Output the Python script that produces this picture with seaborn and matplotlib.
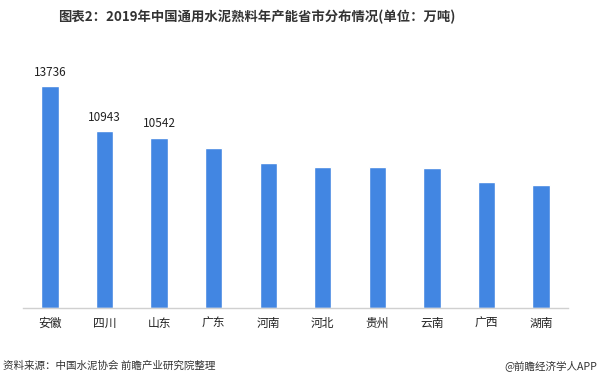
import matplotlib
matplotlib.use("Agg")
import matplotlib.pyplot as plt
import seaborn as sns
import pandas as pd

# Data (万吨)
provinces = ["安徽", "四川", "山东", "广东", "河南", "河北", "贵州", "云南", "广西", "湖南"]
capacity = [13736, 10943, 10542, 9890, 9000, 8720, 8720, 8650, 7800, 7640]
labeled = [13736, 10943, 10542]

sns.set_theme(style="white")
plt.rcParams["font.family"] = ["Noto Sans CJK SC", "DejaVu Sans"]

df = pd.DataFrame({"province": provinces, "capacity": capacity})

fig = plt.figure(figsize=(6, 3.82), dpi=100)
ax = fig.add_axes([0.038, 0.193, 0.909, 0.678])

sns.barplot(data=df, x="province", y="capacity", color="#4286E2",
            saturation=1, width=0.32, ax=ax)

ax.set_xlim(-0.5, 9.5)
ax.set_ylim(0, 16000)

# value labels for the top three
for i, v in enumerate(capacity):
    if v in labeled:
        ax.text(i, v + 450, str(v), ha="center", va="bottom", fontsize=8.5, color="#222222")

for s in ["top", "right", "left"]:
    ax.spines[s].set_visible(False)
ax.spines["bottom"].set_color("#d0d0d0")
ax.spines["bottom"].set_linewidth(1)
ax.set_yticks([])
ax.set_xlabel("")
ax.set_ylabel("")
ax.tick_params(axis="x", length=0, pad=6, labelsize=8.5, labelcolor="#222222")

fig.text(0.428, 0.955, "图表2：2019年中国通用水泥熟料年产能省市分布情况(单位：万吨)",
         ha="center", va="center", fontsize=9.6, fontweight="bold", color="#333333")
fig.text(0.005, 0.042, "资料来源：中国水泥协会 前瞻产业研究院整理",
         ha="left", va="center", fontsize=7.6, color="#333333")
fig.text(0.995, 0.042, "@前瞻经济学人APP",
         ha="right", va="center", fontsize=7.6, color="#333333")

fig.savefig("out.png", dpi=100)
plt.close(fig)
